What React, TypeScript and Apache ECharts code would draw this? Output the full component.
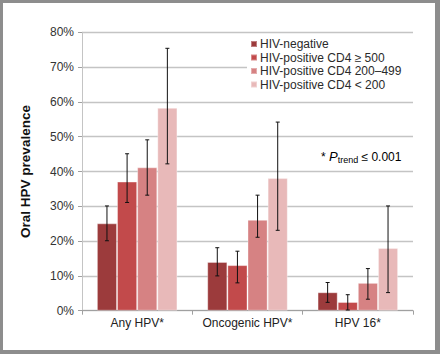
import React, { useEffect, useRef } from "react";
import * as echarts from "echarts";

const categories = ["Any HPV*", "Oncogenic HPV*", "HPV 16*"];
const seriesNames = [
  "HIV-negative",
  "HIV-positive CD4 \u2265 500",
  "HIV-positive CD4 200\u2013499",
  "HIV-positive CD4 < 200",
];
const seriesColors = ["#9c3b3c", "#c24a4b", "#d68283", "#e8b9b9"];
const values = [
  [25.1, 14.0, 5.3],
  [37.1, 13.1, 2.5],
  [41.2, 26.1, 8.0],
  [58.3, 38.1, 18.0],
];
const errLow = [
  [20.1, 10.0, 2.4],
  [31.1, 8.0, 0.2],
  [33.2, 21.1, 3.3],
  [42.2, 23.1, 5.2],
];
const errHigh = [
  [30.1, 18.1, 8.1],
  [45.1, 17.1, 4.6],
  [49.1, 33.2, 12.1],
  [75.4, 54.2, 30.1],
];
const yTicks = [0, 10, 20, 30, 40, 50, 60, 70, 80];

const CAT_GAP = 0.27;

export default function App() {
  const ref = useRef<HTMLDivElement>(null);
  useEffect(() => {
    document.body.style.margin = "0";
    const chart = echarts.init(ref.current!, undefined, { renderer: "svg" });
    const nS = seriesNames.length;
    const barSeries = seriesNames.map((name, i) => ({
      name,
      type: "bar",
      data: values[i],
      barGap: "0%",
      barCategoryGap: CAT_GAP * 100 + "%",
      itemStyle: {
        color: seriesColors[i],
        borderColor: "rgba(255,255,255,0.35)",
        borderWidth: 1,
      },
    }));
    const errSeries = seriesNames.map((name, i) => ({
      type: "custom",
      name: name + " err",
      z: 5,
      data: categories.map((_, c) => [c, errLow[i][c], errHigh[i][c]]),
      encode: { x: 0, y: [1, 2] },
      renderItem: (params: any, api: any) => {
        const c = api.value(0);
        const lo = api.coord([c, api.value(1)]);
        const hi = api.coord([c, api.value(2)]);
        const band = api.size([1, 0])[0];
        const group = band * (1 - CAT_GAP);
        const bw = group / nS;
        const x = lo[0] - group / 2 + bw * (i + 0.5);
        const cap = 2;
        const style = { stroke: "#111", lineWidth: 1 };
        return {
          type: "group",
          children: [
            { type: "line", shape: { x1: x, y1: lo[1], x2: x, y2: hi[1] }, style },
            { type: "line", shape: { x1: x - cap, y1: lo[1], x2: x + cap, y2: lo[1] }, style },
            { type: "line", shape: { x1: x - cap, y1: hi[1], x2: x + cap, y2: hi[1] }, style },
          ],
        };
      },
    }));
    const frame = "#8d8d8d";
    chart.setOption({
      animation: false,
      backgroundColor: "#fff",
      textStyle: { fontFamily: "Liberation Sans, Arial, sans-serif" },
      grid: { left: 82, right: 27, top: 32.3, bottom: 43.3 },
      legend: {
        data: seriesNames,
        orient: "vertical",
        left: 247,
        top: 36,
        itemWidth: 6,
        itemHeight: 6,
        itemGap: 1.5,
        icon: "rect",
        backgroundColor: "#fff",
        padding: [2, 14, 2, 3],
        textStyle: { fontSize: 12, color: "#2a2a2a", lineHeight: 12, padding: [0, 0, 0, -2] },
      },
      xAxis: {
        type: "category",
        data: categories,
        axisLine: { lineStyle: { color: "#a0a0a0", width: 1 } },
        axisTick: { show: true, length: 4, lineStyle: { color: "#a0a0a0" } },
        axisLabel: { fontSize: 12, color: "#222", margin: 6, interval: 0 },
      },
      yAxis: {
        type: "value",
        min: 0,
        max: 80,
        interval: 10,
        name: "Oral HPV prevalence",
        nameLocation: "middle",
        nameRotate: 90,
        nameGap: 50,
        nameTextStyle: { fontSize: 13.5, fontWeight: "bold", color: "#111" },
        axisLine: { show: true, lineStyle: { color: "#c4c4c4", width: 1 } },
        axisTick: { show: true, length: 4, lineStyle: { color: "#a0a0a0" } },
        axisLabel: {
          fontSize: 12,
          color: "#333",
          margin: 8,
          formatter: (v: number) => (yTicks.includes(v) ? v + "%" : ""),
        },
        splitLine: { lineStyle: { color: "#c4c4c4", width: 1.3 } },
      },
      graphic: [
        {
          type: "text",
          left: 321,
          top: 150,
          z: 10,
          style: {
            text: "{a|* }{p|P}{s|trend}{a| \u2264 0.001}",
            rich: {
              a: { fontSize: 12, color: "#222", fontFamily: "Liberation Sans, Arial, sans-serif" },
              p: { fontSize: 13, color: "#222", fontStyle: "italic", fontFamily: "Liberation Sans, Arial, sans-serif" },
              s: { fontSize: 9, color: "#222", padding: [7, 0, 0, 0], fontFamily: "Liberation Sans, Arial, sans-serif" },
            },
          },
        },
        { type: "rect", left: 0, top: 0, shape: { width: 440, height: 3 }, style: { fill: frame } },
        { type: "rect", left: 0, top: 350, shape: { width: 440, height: 4 }, style: { fill: frame } },
        { type: "rect", left: 0, top: 0, shape: { width: 3, height: 354 }, style: { fill: frame } },
        { type: "rect", left: 435, top: 0, shape: { width: 5, height: 354 }, style: { fill: frame } },
      ],
      series: [...barSeries, ...errSeries],
    });
    return () => chart.dispose();
  }, []);
  return (
    <div style={{ position: "fixed", left: 0, top: 0 }}>
      <div ref={ref} style={{ width: 440, height: 354 }} />
    </div>
  );
}
